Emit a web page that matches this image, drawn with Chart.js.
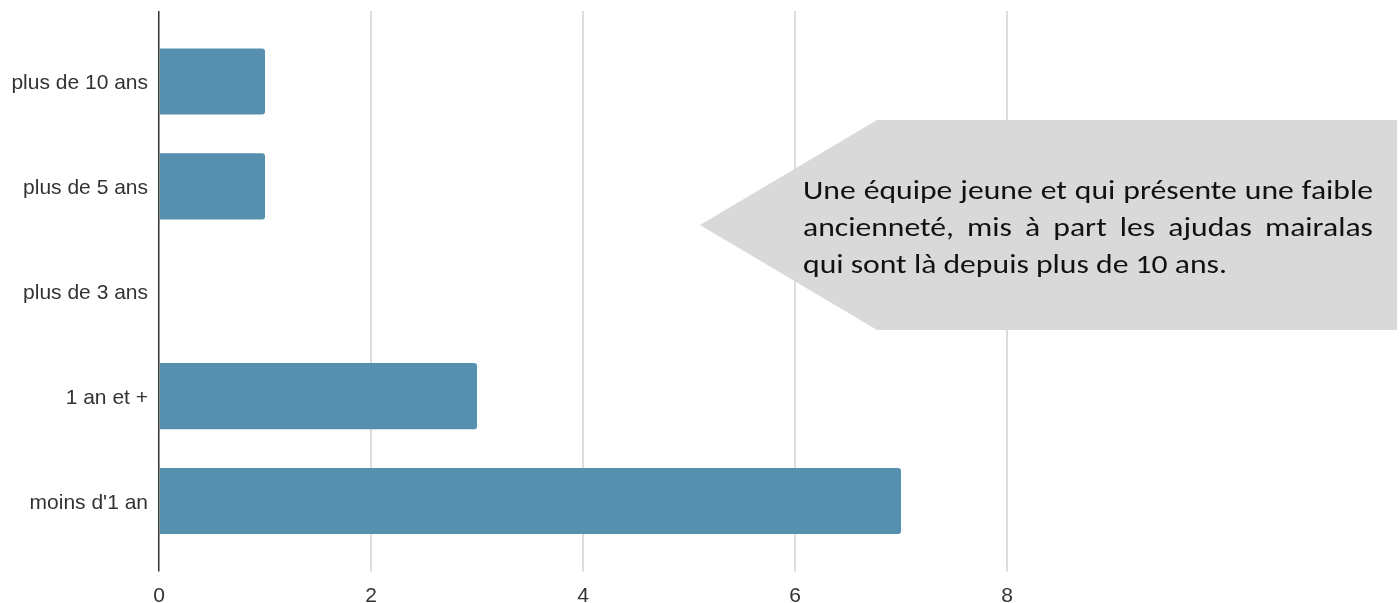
<!DOCTYPE html>
<html><head><meta charset="utf-8">
<script src="https://cdn.jsdelivr.net/npm/chart.js@4"></script>
<style>
html,body{margin:0;padding:0;background:#fff;}
#wrap{position:relative;width:1400px;height:603px;overflow:hidden;}
#callout{position:absolute;left:700px;top:120px;width:697px;height:210px;background:#d9d9d9;
 clip-path:polygon(0 50%,177px 0,100% 0,100% 100%,177px 100%);}
#ctext{position:absolute;left:803px;top:171px;font-family:Carlito,"Open Sans",Lato,sans-serif;font-size:27px;line-height:37px;color:#111;transform-origin:0 0;}
#ctext div{white-space:nowrap;}
#ctext .j{text-align:justify;text-align-last:justify;white-space:normal;}
#l3{display:inline-block;}
</style></head>
<body><div id="wrap"><canvas id="c" width="1400" height="603"></canvas>
<div id="callout"></div>
<div id="ctext"><div class="j">Une équipe jeune et qui présente une faible</div><div class="j">ancienneté, mis à part les ajudas mairalas</div><div><span id="l3">qui sont là depuis plus de 10 ans.</span></div></div>
</div>
<script>
const categories = ["plus de 10 ans", "plus de 5 ans", "plus de 3 ans", "1 an et +", "moins d'1 an"];
const values = [1, 1, 0, 3, 7];
const xTicks = [0, 2, 4, 6, 8];

// fit the callout text block to the reference width
(function(){
  const t = document.getElementById('ctext');
  const w3 = document.getElementById('l3').getBoundingClientRect().width;
  const s = 424 / w3;
  t.style.width = (570 / s) + 'px';
  t.style.transform = 'scaleX(' + s + ')';
})();

const gridColor = c => (c.tick && c.tick.value === 0) ? '#333333' : (c.tick && xTicks.includes(c.tick.value) ? '#dddddd' : 'rgba(0,0,0,0)');
const gridWidth = c => (c.tick && c.tick.value === 0) ? 1.5 : 2;

new Chart(document.getElementById('c'), {
  type: 'bar',
  data: { labels: categories, datasets: [{ data: values, backgroundColor: '#5790ae', borderRadius: 3, borderSkipped: 'start', categoryPercentage: 1, barPercentage: 0.63 }] },
  options: {
    indexAxis: 'y', responsive: false, animation: false,
    layout: { padding: { top: 11, right: 181, bottom: 0, left: 0 } },
    plugins: { legend: { display: false }, tooltip: { enabled: false } },
    scales: {
      x: {
        type: 'linear', position: 'bottom', min: 0, max: 10,
        afterFit: s => { s.height = 49.5; },
        ticks: { stepSize: 2, padding: 12, color: '#333', font: { family: 'Liberation Sans, Arial', size: 21 },
          callback: v => xTicks.includes(v) ? String(v) : '' },
        grid: { color: gridColor, tickColor: gridColor, lineWidth: gridWidth, tickWidth: gridWidth, tickLength: 18 },
        border: { display: false }
      },
      x2: {
        type: 'linear', position: 'top', min: 0, max: 10,
        ticks: { stepSize: 2, display: false },
        grid: { drawOnChartArea: false, color: gridColor, tickColor: gridColor, lineWidth: gridWidth, tickWidth: gridWidth, tickLength: 18 },
        border: { display: false }
      },
      y: {
        afterFit: s => { s.width = 159; },
        ticks: { padding: 11, labelOffset: 2, color: '#333', font: { family: 'Liberation Sans, Arial', size: 21 } },
        grid: { display: false, drawTicks: false },
        border: { display: false }
      }
    }
  }
});
</script></body></html>
